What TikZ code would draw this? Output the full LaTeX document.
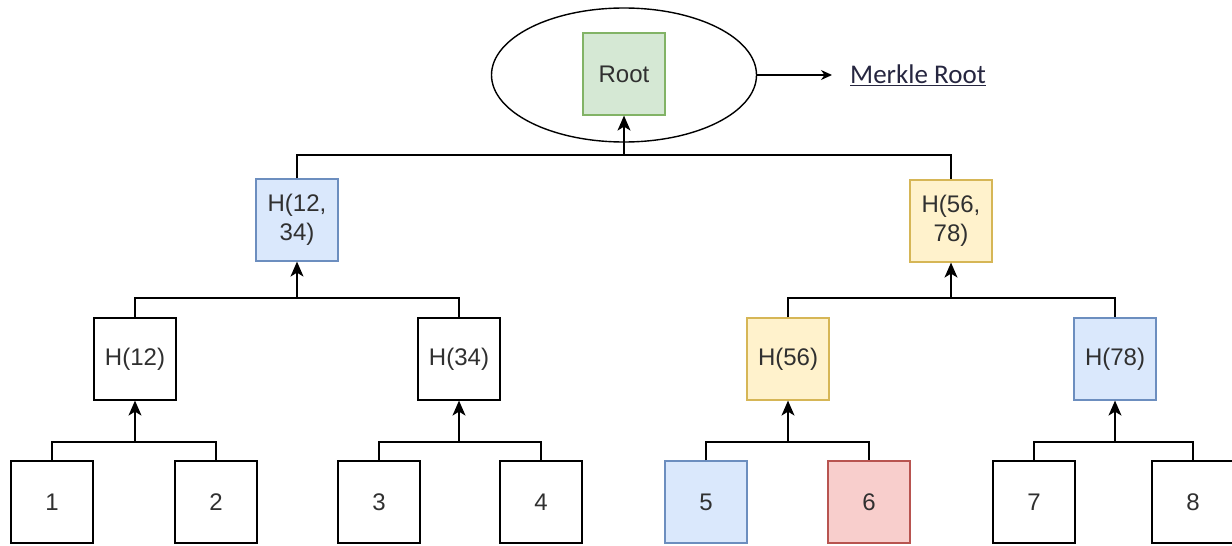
\documentclass[tikz,border=0pt]{standalone}
\usepackage{fontspec}
\setmainfont{Liberation Sans}
\newfontfamily\calib{Carlito}
\usetikzlibrary{arrows.meta,shapes.geometric}
\definecolor{gfill}{HTML}{D5E8D4}\definecolor{gline}{HTML}{82B366}
\definecolor{bfill}{HTML}{DAE8FC}\definecolor{bline}{HTML}{6C8EBF}
\definecolor{yfill}{HTML}{FFF2CC}\definecolor{yline}{HTML}{D6B656}
\definecolor{rfill}{HTML}{F8CECC}\definecolor{rline}{HTML}{B85450}
\definecolor{navy}{HTML}{262640}
\definecolor{txt}{HTML}{303030}
\tikzset{
  hbox/.style={draw=black, line width=1.2pt, fill=white, minimum width=82pt, minimum height=82pt, inner sep=0pt, align=center, font=\fontsize{24}{29}\selectfont, text=txt},
  green/.style={fill=gfill, draw=gline},
  blue/.style={fill=bfill, draw=bline},
  yellow/.style={fill=yfill, draw=yline},
  red/.style={fill=rfill, draw=rline},
  link/.style={line width=1.4pt, draw=black},
  up/.style={link, -{Stealth[length=15pt,width=13pt,inset=4pt]}},
}
\begin{document}
\begin{tikzpicture}[x=1pt,y=-1pt]
\useasboundingbox (0,0) rectangle (1232,546);
% root
\node[ellipse, draw=black, line width=1.4pt, minimum width=265pt, minimum height=134pt] (ell) at (624,75) {};
\node[hbox, green] (root) at (624,74) {Root};
\node[font=\calib\fontsize{27}{32}\selectfont, text=navy, inner sep=0pt, anchor=west] (mr) at (850,75) {\underline{Merkle Root}};
\coordinate (mrin) at (832,75);
\draw[link, -{Stealth[length=11pt,width=10pt]}] (ell.east) -- (mrin);
% level 1
\node[hbox, blue] (h1234) at (297,220) {H(12,\\34)};
\node[hbox, yellow] (h5678) at (951,221) {H(56,\\78)};
% level 2
\node[hbox] (h12) at (135,359) {H(12)};
\node[hbox] (h34) at (459,359) {H(34)};
\node[hbox, yellow] (h56) at (788,359) {H(56)};
\node[hbox, blue] (h78) at (1115,359) {H(78)};
% leaves
\node[hbox] (l1) at (52,502) {1};
\node[hbox] (l2) at (216,502) {2};
\node[hbox] (l3) at (379,502) {3};
\node[hbox] (l4) at (541,502) {4};
\node[hbox, blue] (l5) at (706,502) {5};
\node[hbox, red] (l6) at (869,502) {6};
\node[hbox] (l7) at (1034,502) {7};
\node[hbox] (l8) at (1193,502) {8};
% junction coordinates
\coordinate (j0) at (624,155);
\coordinate (j1) at (297,298);
\coordinate (j2) at (951,298);
\coordinate (j3) at (135,442);
\coordinate (j4) at (459,442);
\coordinate (j5) at (788,442);
\coordinate (j6) at (1115,442);
% connectors
\draw[link] (h1234.north) |- (j0) -| (h5678.north);
\draw[up] (j0) -- (root.south);
\draw[link] (h12.north) |- (j1) -| (h34.north);
\draw[up] (j1) -- (h1234.south);
\draw[link] (h56.north) |- (j2) -| (h78.north);
\draw[up] (j2) -- (h5678.south);
\draw[link] (l1.north) |- (j3) -| (l2.north);
\draw[up] (j3) -- (h12.south);
\draw[link] (l3.north) |- (j4) -| (l4.north);
\draw[up] (j4) -- (h34.south);
\draw[link] (l5.north) |- (j5) -| (l6.north);
\draw[up] (j5) -- (h56.south);
\draw[link] (l7.north) |- (j6) -| (l8.north);
\draw[up] (j6) -- (h78.south);
\end{tikzpicture}
\end{document}
